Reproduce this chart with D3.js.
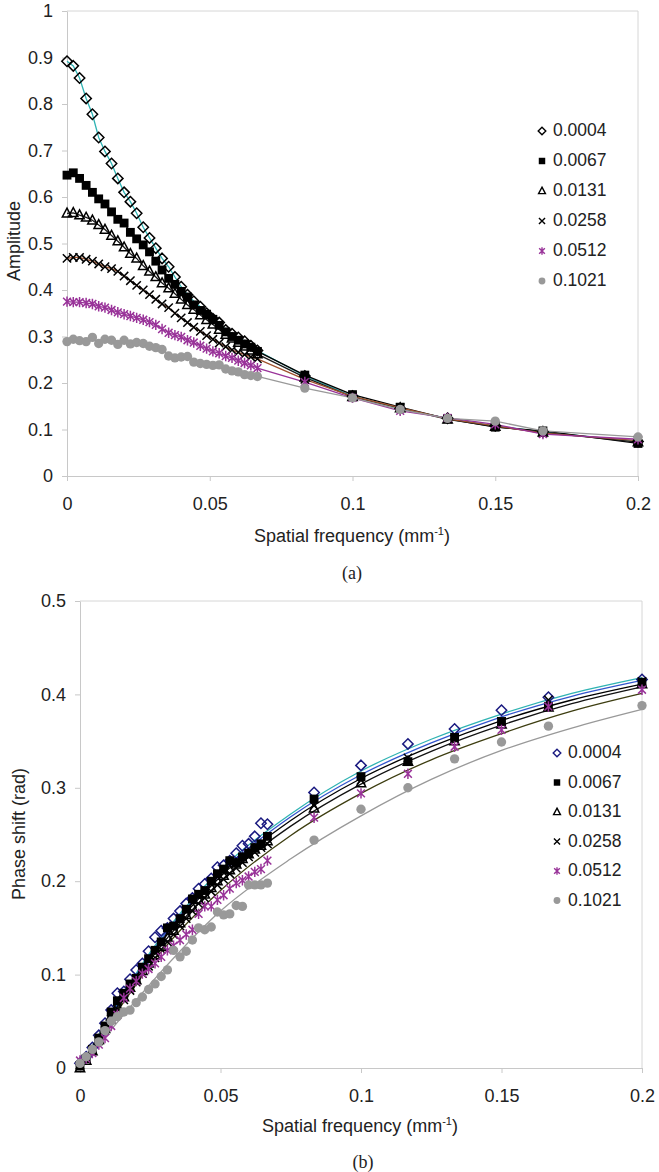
<!DOCTYPE html>
<html>
<head>
<meta charset="utf-8">
<script src="https://cdn.jsdelivr.net/npm/d3@7"></script>
<style>
  body { margin: 0; background: #fff; }
  svg { display: block; font-family: "Liberation Sans", Arial, sans-serif; }
  .tick text { font-size: 18px; fill: #222; }
  .axis path, .axis line { stroke: #c8c8c8; }
</style>
</head>
<body>
<svg id="chart" width="659" height="1172"></svg>
<script>
// Legend labels (series)
const seriesNames = ["0.0004", "0.0067", "0.0131", "0.0258", "0.0512", "0.1021"];

// Spatial frequency (mm^-1), shared by both panels
const freq = [0, 0.0022, 0.0044, 0.0067, 0.0089, 0.0111, 0.0133, 0.0156, 0.0178, 0.02,
  0.0222, 0.0244, 0.0267, 0.0289, 0.0311, 0.0333, 0.0356, 0.0378, 0.04, 0.0422,
  0.0444, 0.0467, 0.0489, 0.0511, 0.0533, 0.0556, 0.0578, 0.06, 0.0622, 0.0644, 0.0667,
  0.0833, 0.1, 0.1167, 0.1333, 0.15, 0.1667, 0.2];

// (a) Amplitude
const ampA = [0.892,0.882,0.856,0.812,0.778,0.728,0.698,0.672,0.640,0.610,0.590,0.565,0.535,0.512,0.490,0.468,0.450,0.428,0.407,0.390,0.376,0.364,0.350,0.338,0.330,0.314,0.306,0.298,0.290,0.280,0.270, 0.215,0.172,0.145,0.124,0.108,0.095,0.074];
const ampB = [0.647,0.652,0.640,0.625,0.610,0.596,0.585,0.568,0.552,0.544,0.524,0.510,0.497,0.482,0.462,0.443,0.425,0.412,0.397,0.385,0.368,0.356,0.348,0.337,0.324,0.310,0.300,0.292,0.284,0.277,0.268, 0.217,0.175,0.148,0.123,0.105,0.097,0.070];
const ampC = [0.565,0.566,0.561,0.556,0.550,0.540,0.530,0.517,0.505,0.492,0.478,0.468,0.452,0.440,0.428,0.415,0.404,0.392,0.380,0.368,0.358,0.346,0.336,0.326,0.315,0.304,0.296,0.287,0.279,0.270,0.262, 0.212,0.170,0.146,0.122,0.106,0.094,0.073];
const ampD = [0.468,0.470,0.470,0.466,0.462,0.456,0.450,0.446,0.440,0.430,0.420,0.410,0.400,0.390,0.380,0.370,0.362,0.350,0.340,0.330,0.320,0.311,0.302,0.294,0.286,0.278,0.271,0.266,0.261,0.256,0.252, 0.208,0.171,0.147,0.123,0.108,0.092,0.076];
const ampE = [0.375,0.374,0.374,0.372,0.370,0.365,0.362,0.357,0.352,0.348,0.344,0.340,0.336,0.331,0.325,0.316,0.308,0.303,0.299,0.292,0.287,0.280,0.274,0.268,0.264,0.258,0.254,0.248,0.243,0.238,0.232, 0.202,0.168,0.140,0.125,0.111,0.090,0.079];
const ampF = [0.289,0.294,0.291,0.289,0.298,0.285,0.294,0.292,0.283,0.292,0.284,0.287,0.285,0.279,0.276,0.272,0.258,0.254,0.256,0.257,0.245,0.242,0.240,0.238,0.239,0.230,0.226,0.224,0.218,0.216,0.214, 0.189,0.168,0.143,0.124,0.118,0.097,0.084];

// (b) Phase shift (rad)
const phA = [0.005,0.012,0.022,0.035,0.048,0.062,0.080,0.082,0.095,0.105,0.112,0.125,0.140,0.147,0.150,0.160,0.168,0.176,0.182,0.192,0.197,0.203,0.215,0.217,0.222,0.230,0.238,0.240,0.248,0.262,0.261, 0.295,0.324,0.347,0.363,0.383,0.397,0.416];
const phB = [0.002,0.010,0.020,0.032,0.045,0.060,0.072,0.080,0.090,0.096,0.108,0.117,0.126,0.135,0.150,0.152,0.160,0.170,0.181,0.186,0.190,0.200,0.208,0.213,0.222,0.220,0.226,0.230,0.236,0.240,0.248, 0.288,0.312,0.328,0.354,0.371,0.387,0.413];
const phC = [0.000,0.008,0.018,0.030,0.042,0.055,0.066,0.076,0.086,0.094,0.104,0.112,0.121,0.130,0.140,0.147,0.155,0.164,0.172,0.180,0.186,0.193,0.200,0.206,0.212,0.218,0.224,0.229,0.234,0.238,0.243, 0.278,0.305,0.328,0.350,0.368,0.386,0.411];
const phD = [0.003,0.010,0.019,0.029,0.040,0.052,0.063,0.073,0.083,0.092,0.101,0.109,0.118,0.127,0.135,0.143,0.152,0.160,0.168,0.176,0.182,0.189,0.196,0.202,0.208,0.214,0.220,0.226,0.231,0.236,0.240, 0.281,0.308,0.332,0.352,0.371,0.394,0.414];
const phE = [0.008,0.010,0.016,0.025,0.032,0.045,0.057,0.075,0.085,0.093,0.101,0.106,0.112,0.119,0.126,0.131,0.137,0.143,0.148,0.165,0.173,0.173,0.180,0.185,0.192,0.198,0.201,0.205,0.210,0.213,0.222, 0.268,0.294,0.315,0.344,0.362,0.387,0.405];
const phF = [0.005,0.012,0.020,0.028,0.040,0.050,0.055,0.060,0.062,0.070,0.076,0.084,0.090,0.098,0.105,0.126,0.119,0.125,0.137,0.150,0.148,0.151,0.167,0.164,0.165,0.174,0.173,0.196,0.196,0.196,0.198, 0.244,0.277,0.300,0.331,0.349,0.366,0.388];

// (b) fitted curves
const fitX = [0, 0.01, 0.025, 0.05, 0.075, 0.1, 0.125, 0.15, 0.175, 0.2];
const fitA = [0, 0.052, 0.124, 0.212, 0.272, 0.318, 0.352, 0.379, 0.401, 0.418];
const fitB = [0, 0.051, 0.122, 0.209, 0.269, 0.314, 0.348, 0.376, 0.398, 0.415];
const fitC = [0, 0.050, 0.119, 0.205, 0.265, 0.310, 0.344, 0.372, 0.394, 0.411];
const fitD = [0, 0.049, 0.116, 0.200, 0.259, 0.304, 0.339, 0.367, 0.390, 0.408];
const fitE = [0, 0.046, 0.110, 0.190, 0.249, 0.294, 0.330, 0.358, 0.382, 0.401];
const fitF = [0, 0.037, 0.090, 0.168, 0.224, 0.270, 0.309, 0.340, 0.364, 0.384];

// Tick values
const xTicks = [0, 0.05, 0.1, 0.15, 0.2];
const ampTicks = [0, 0.1, 0.2, 0.3, 0.4, 0.5, 0.6, 0.7, 0.8, 0.9, 1];
const phTicks = [0, 0.1, 0.2, 0.3, 0.4, 0.5];

const shapes = ["diamond", "square", "triangle", "cross", "asterisk", "circle"];
const fmt = d => String(+d.toFixed(3));

const svg = d3.select("#chart");

// draw one marker into a group
function marker(g, shape, x, y, r, color, sw) {
    if (shape === "diamond") {
        g.append("path").attr("d", `M${x},${y - r}L${x + r},${y}L${x},${y + r}L${x - r},${y}Z`)
            .attr("fill", "none").attr("stroke", color).attr("stroke-width", sw);
    } else if (shape === "square") {
        g.append("rect").attr("x", x - r * 0.85).attr("y", y - r * 0.85)
            .attr("width", r * 1.7).attr("height", r * 1.7).attr("fill", color);
    } else if (shape === "triangle") {
        g.append("path").attr("d", `M${x},${y - r}L${x + r * 0.9},${y + r * 0.7}L${x - r * 0.9},${y + r * 0.7}Z`)
            .attr("fill", "none").attr("stroke", color).attr("stroke-width", sw);
    } else if (shape === "cross") {
        const k = r * 0.8;
        g.append("path").attr("d", `M${x - k},${y - k}L${x + k},${y + k}M${x - k},${y + k}L${x + k},${y - k}`)
            .attr("stroke", color).attr("stroke-width", sw);
    } else if (shape === "asterisk") {
        const k = r * 0.75;
        g.append("path").attr("d", `M${x - k},${y - k}L${x + k},${y + k}M${x - k},${y + k}L${x + k},${y - k}M${x},${y - r}L${x},${y + r}`)
            .attr("stroke", color).attr("stroke-width", sw);
    } else {
        g.append("circle").attr("cx", x).attr("cy", y).attr("r", r * 0.9).attr("fill", color);
    }
}

function panel(cfg) {
    const x = d3.scaleLinear().domain([0, 0.2]).range([cfg.left, cfg.right]);
    const y = d3.scaleLinear().domain([0, cfg.ymax]).range([cfg.bottom, cfg.top]);

    // plot border
    svg.append("path")
        .attr("d", `M${cfg.left},${cfg.top}H${cfg.right}V${cfg.bottom}`)
        .attr("fill", "none").attr("stroke", "#d6d6d6");

    svg.append("g").attr("class", "axis")
        .attr("transform", `translate(0,${cfg.bottom})`)
        .call(d3.axisBottom(x).tickValues(xTicks).tickFormat(fmt).tickSize(5).tickSizeOuter(0).tickPadding(16));
    svg.append("g").attr("class", "axis")
        .attr("transform", `translate(${cfg.left},0)`)
        .call(d3.axisLeft(y).tickValues(cfg.yTicks).tickFormat(fmt).tickSize(5).tickSizeOuter(0).tickPadding(9));

    // connecting lines / fitted curves
    const line = d3.line().x(d => x(d[0])).y(d => y(d[1])).curve(cfg.curve);
    cfg.lines.forEach((vals, i) => {
        svg.append("path")
            .datum(cfg.lineX.map((f, j) => [f, vals[j]]))
            .attr("d", line)
            .attr("fill", "none")
            .attr("stroke", cfg.lineColors[i])
            .attr("stroke-width", 1.3);
    });

    // markers
    cfg.series.forEach((vals, i) => {
        const g = svg.append("g");
        vals.forEach((v, j) => marker(g, shapes[i], x(freq[j]), y(v), 5.2, cfg.markColors[i], 1.5));
    });

    // legend
    seriesNames.forEach((name, i) => {
        const ly = cfg.legY + i * cfg.legStep;
        marker(svg, shapes[i], cfg.legX, ly + 1, 3.8, cfg.markColors[i], 1.4);
        svg.append("text").attr("x", cfg.legX + 11).attr("y", ly + 6)
            .attr("font-size", 17.5).attr("fill", "#222").text(name);
    });

    // axis titles
    const xt = svg.append("text").attr("x", cfg.xTitleX).attr("y", cfg.xTitleY)
        .attr("text-anchor", "middle").attr("font-size", 18).attr("fill", "#222");
    xt.append("tspan").text("Spatial frequency (mm");
    xt.append("tspan").attr("font-size", 11).attr("dy", -7).text("-1");
    xt.append("tspan").attr("dy", 7).text(")");

    svg.append("text")
        .attr("transform", `translate(${cfg.yTitleX},${cfg.yTitleY}) rotate(-90)`)
        .attr("text-anchor", "middle").attr("font-size", 18).attr("fill", "#222")
        .text(cfg.yTitle);

    svg.append("text").attr("x", cfg.capX).attr("y", cfg.capY)
        .attr("text-anchor", "middle").attr("font-size", 18)
        .attr("font-family", "'Liberation Serif', 'Times New Roman', serif")
        .attr("fill", "#222").text(cfg.caption);
}

panel({
    left: 67, right: 638, top: 11, bottom: 476, ymax: 1, yTicks: ampTicks,
    series: [ampA, ampB, ampC, ampD, ampE, ampF],
    lines: [ampA, ampB, ampC, ampD, ampE, ampF], lineX: freq, curve: d3.curveLinear,
    lineColors: ["#2fb3b3", "#000000", "#1a1a1a", "#a0522d", "#993399", "#999999"],
    markColors: ["#000000", "#000000", "#000000", "#000000", "#993399", "#999999"],
    legX: 542, legY: 130, legStep: 30,
    xTitleX: 352, xTitleY: 542, yTitle: "Amplitude", yTitleX: 20, yTitleY: 241,
    caption: "(a)", capX: 352, capY: 579
});

panel({
    left: 80, right: 642, top: 601, bottom: 1068, ymax: 0.5, yTicks: phTicks,
    series: [phA, phB, phC, phD, phE, phF],
    lines: [fitA, fitB, fitC, fitD, fitE, fitF], lineX: fitX, curve: d3.curveMonotoneX,
    lineColors: ["#2fb3b3", "#3355cc", "#000000", "#111111", "#3d3d10", "#999999"],
    markColors: ["#1a1a80", "#000000", "#000000", "#000000", "#993399", "#999999"],
    legX: 557, legY: 752, legStep: 29.5,
    xTitleX: 360, xTitleY: 1132, yTitle: "Phase shift (rad)", yTitleX: 25, yTitleY: 834,
    caption: "(b)", capX: 363, capY: 1168
});
</script>
</body>
</html>
